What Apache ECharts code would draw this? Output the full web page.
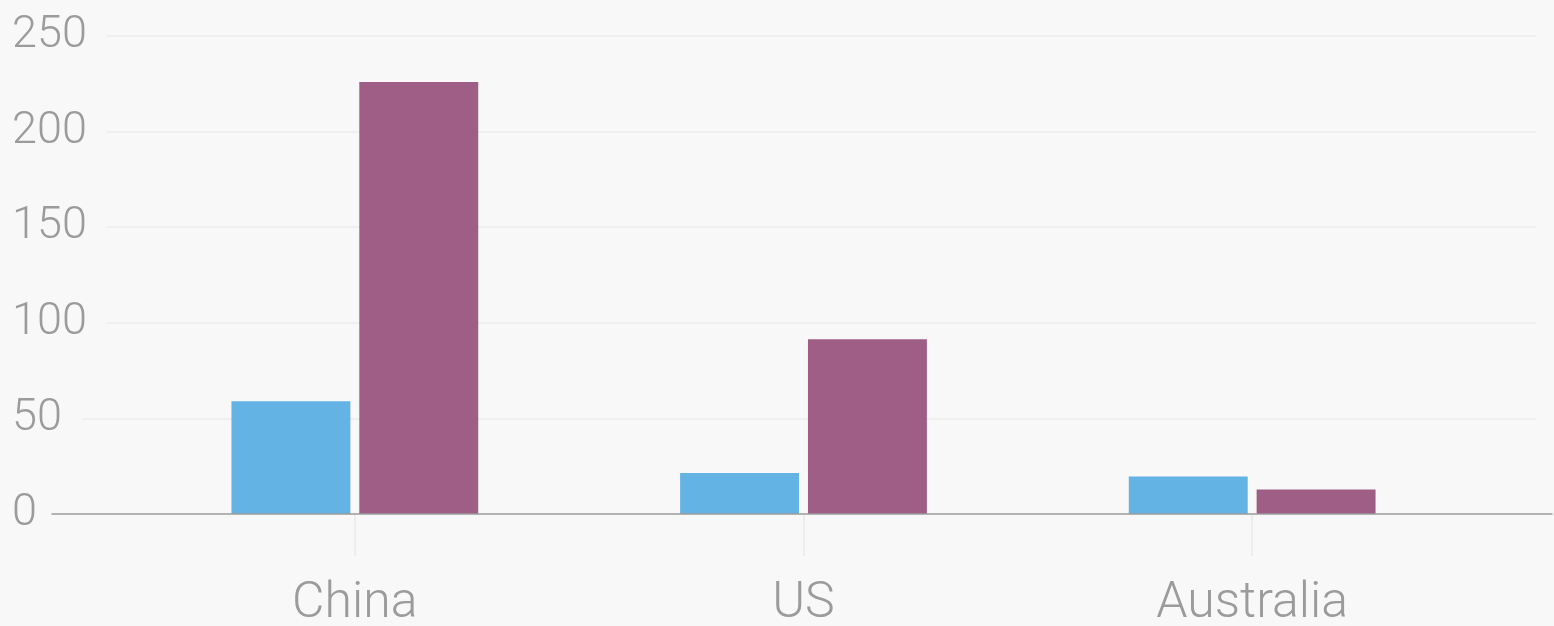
<!DOCTYPE html>
<html>
<head>
<meta charset="utf-8">
<style>
  html, body { margin: 0; padding: 0; background: #f8f8f8; }
  #chart { width: 1554px; height: 626px; }
</style>
<script src="https://cdn.jsdelivr.net/npm/echarts@6/dist/echarts.min.js"></script>
</head>
<body>
<div id="chart"></div>
<script>
// Country categories and the two bar series
const categories = ['China', 'US', 'Australia'];
const seriesBlue = [59, 21.4, 19.6];
const seriesPurple = [226, 91.4, 12.8];
const yTicks = [0, 50, 100, 150, 200, 250];

const BG = '#f8f8f8';
const TEXT = '#9b9b9b';
const FONT = 'Roboto, "Noto Sans", sans-serif';

const chart = echarts.init(document.getElementById('chart'), null, { renderer: 'canvas' });

const yMin = yTicks[0];
const yMax = yTicks[yTicks.length - 1];
const yStep = yTicks[1] - yTicks[0];

// zero gridline is replaced by the baseline axis below
const splitColors = yTicks.map((v) => (v === 0 ? 'rgba(0,0,0,0)' : '#ececec'));

// fixed plot boxes: labels may sit outside them without shrinking the grid
const gridBase = { top: 36, bottom: 112, containLabel: false, outerBoundsMode: 'none' };

chart.setOption({
  backgroundColor: BG,
  animation: false,
  grid: [
    // full-width frame: gridlines and value labels
    Object.assign({ left: 10, right: 18 }, gridBase),
    // bar area
    Object.assign({ left: 130.5, right: 77.5 }, gridBase),
    // baseline, starting just right of the "0" label
    Object.assign({ left: 52, right: 2 }, gridBase)
  ],
  xAxis: [
    {
      gridIndex: 0, type: 'category', data: [''],
      axisLine: { show: false }, axisTick: { show: false },
      axisLabel: { show: false }, splitLine: { show: false }
    },
    {
      gridIndex: 1, type: 'category', data: categories,
      axisLine: { show: false },
      axisTick: { show: true, alignWithLabel: true, length: 42, lineStyle: { color: '#e9e9e9', width: 1.5 } },
      axisLabel: { color: TEXT, fontFamily: FONT, fontWeight: 300, fontSize: 50, margin: 65 },
      splitLine: { show: false }
    },
    {
      gridIndex: 2, type: 'category', data: [''], z: 5,
      axisLine: { show: true, lineStyle: { color: '#9a9a9a', width: 1.5 } },
      axisTick: { show: false }, axisLabel: { show: false }, splitLine: { show: false }
    }
  ],
  yAxis: [
    {
      gridIndex: 0, type: 'value', min: yMin, max: yMax, interval: yStep,
      axisLine: { show: false }, axisTick: { show: false },
      splitLine: { show: true, lineStyle: { color: splitColors, width: 1.5 } },
      axisLabel: {
        inside: true, color: TEXT, fontFamily: FONT, fontWeight: 300, fontSize: 45,
        align: 'left', verticalAlign: 'middle', margin: 0,
        backgroundColor: BG, padding: [0, 20, 8, 2], lineHeight: 46
      }
    },
    {
      gridIndex: 1, type: 'value', min: yMin, max: yMax, interval: yStep,
      show: false, splitLine: { show: false }
    },
    {
      gridIndex: 2, type: 'value', min: yMin, max: yMax, interval: yStep,
      show: false, splitLine: { show: false }
    }
  ],
  series: [
    {
      name: 'Series 1', type: 'bar', xAxisIndex: 1, yAxisIndex: 1,
      data: seriesBlue, itemStyle: { color: '#63b3e4' },
      barGap: '7.5%', barCategoryGap: '45%'
    },
    {
      name: 'Series 2', type: 'bar', xAxisIndex: 1, yAxisIndex: 1,
      data: seriesPurple, itemStyle: { color: '#9e5e86' },
      barGap: '7.5%', barCategoryGap: '45%'
    }
  ]
});
</script>
</body>
</html>
